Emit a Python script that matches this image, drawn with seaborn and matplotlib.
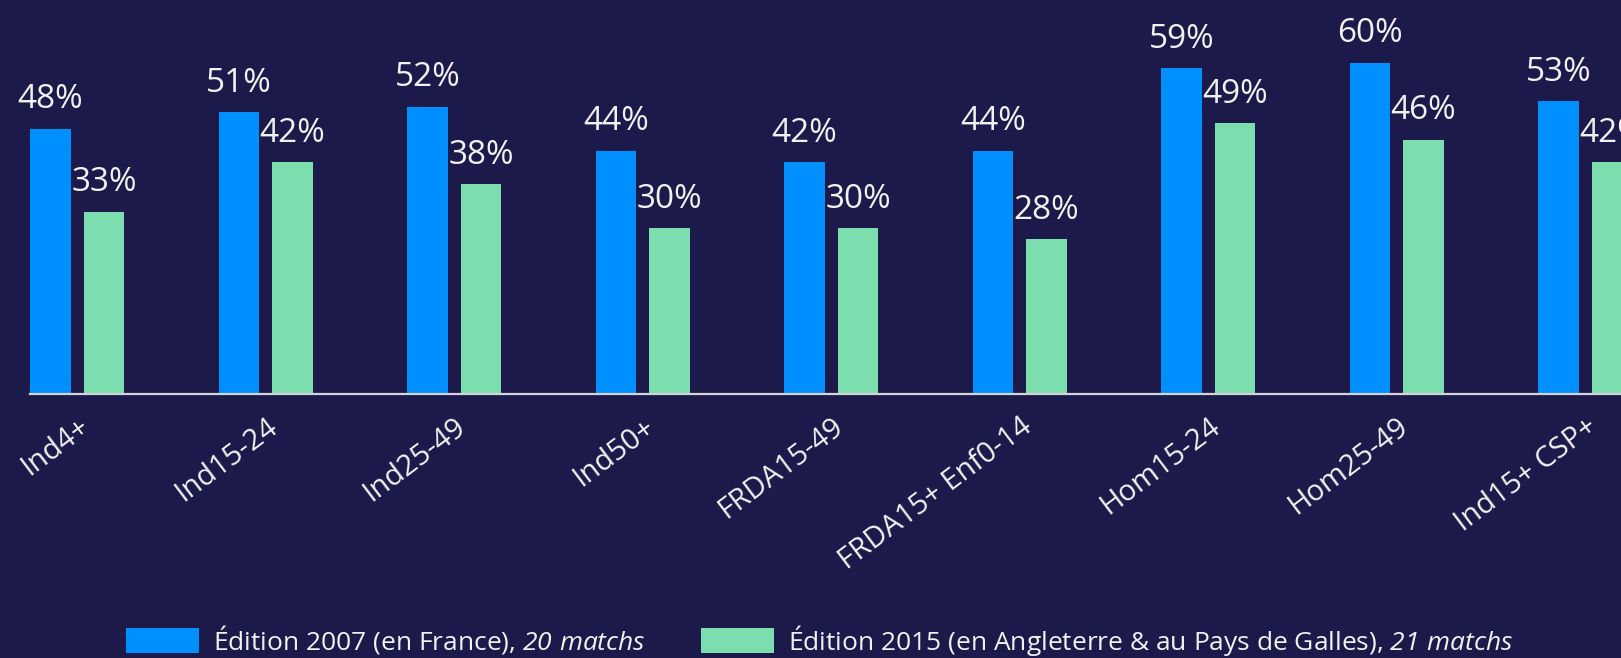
import matplotlib
matplotlib.use("Agg")
import matplotlib.pyplot as plt
import seaborn as sns
import pandas as pd

BG = "#1b1a4b"
BLUE = "#008fff"
GREEN = "#7cdeae"
TXT = "#f2f2f2"

segments = ["Ind4+", "Ind15-24", "Ind25-49", "Ind50+", "FRDA15-49",
            "FRDA15+ Enf0-14", "Hom15-24", "Hom25-49", "Ind15+ CSP+"]
part_2007 = [48, 51, 52, 44, 42, 44, 59, 60, 53]
part_2015 = [33, 42, 38, 30, 30, 28, 49, 46, 42]
editions = [r"Édition 2007 (en France), $\mathrm{20\ matchs}$",
            r"Édition 2015 (en Angleterre & au Pays de Galles), $\mathrm{21\ matchs}$"]

df = pd.DataFrame({
    "segment": segments * 2,
    "part": part_2007 + part_2015,
    "edition": [editions[0]] * len(segments) + [editions[1]] * len(segments),
})

sns.set_style("white")
plt.rcParams["font.family"] = ["Open Sans", "DejaVu Sans"]
# the math part of the legend labels is the small italic "matchs" text
plt.rcParams["mathtext.fontset"] = "custom"
plt.rcParams["mathtext.it"] = "Open Sans:italic"
plt.rcParams["mathtext.rm"] = "Open Sans:italic"

W, H = 1621, 658
fig = plt.figure(figsize=(W / 100, H / 100), dpi=100, facecolor=BG)
base = 394.3
ax = fig.add_axes([30 / W, (H - base) / H, 1 - 30 / W, base / H])
ax.set_facecolor(BG)

sns.barplot(data=df, x="segment", y="part", hue="edition",
            palette=[BLUE, GREEN], saturation=1, width=0.568, gap=0.243,
            linewidth=0, ax=ax)

for cont in ax.containers:
    ax.bar_label(cont, fmt="{:.0f}%", padding=9, color=TXT, fontsize=24)

ax.set_xlim(-0.25, -0.25 + (W - 30) / 188.5)
ax.set_ylim(0, base / 5.53)
ax.set_xlabel("")
ax.set_ylabel("")
ax.set_yticks([])
for s in ["top", "right", "left"]:
    ax.spines[s].set_visible(False)
ax.spines["bottom"].set_color("#d4d4d4")
ax.spines["bottom"].set_linewidth(1.6)
ax.tick_params(axis="x", length=0, pad=13, labelsize=21, labelcolor=TXT)
plt.setp(ax.get_xticklabels(), rotation=37, ha="right", rotation_mode="anchor")

handles, labels = ax.get_legend_handles_labels()
ax.get_legend().remove()
fig.legend(handles, labels, loc="center left",
           bbox_to_anchor=(126 / W, 1 - 640 / H), ncol=2, frameon=False,
           fontsize=19, labelcolor=TXT, handlelength=2.75,
           handleheight=1.1, handletextpad=0.55, columnspacing=2.1,
           borderpad=0, borderaxespad=0)

fig.savefig("out.png", dpi=100, facecolor=BG)
